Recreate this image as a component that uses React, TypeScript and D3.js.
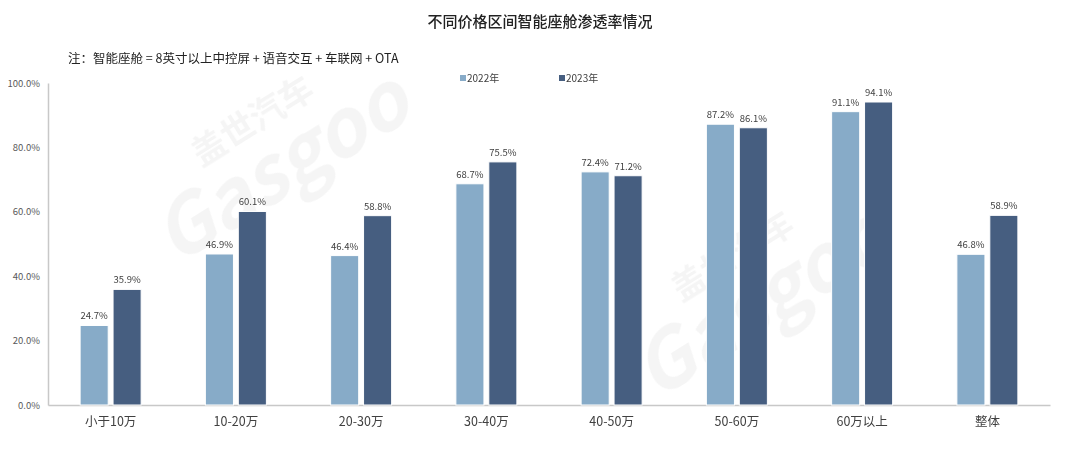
import { useEffect, useRef } from 'react';
import * as d3 from 'd3';

const categories = ['小于10万', '10-20万', '20-30万', '30-40万', '40-50万', '50-60万', '60万以上', '整体'];
const series2022 = [24.7, 46.9, 46.4, 68.7, 72.4, 87.2, 91.1, 46.8];
const series2023 = [35.9, 60.1, 58.8, 75.5, 71.2, 86.1, 94.1, 58.9];
const seriesNames = ['2022年', '2023年'];
const yTicks = [0, 20, 40, 60, 80, 100];

const COLORS = ['#87abc8', '#465e80'];
const FONT = '"Noto Sans CJK SC", "Noto Sans", sans-serif';

export default function App() {
  const svgRef = useRef<SVGSVGElement>(null);

  useEffect(() => {
    if (!svgRef.current) return;
    const svg = d3.select(svgRef.current);
    svg.selectAll('*').remove();

    const W = 1080, H = 455;
    const margin = { top: 83, right: 30, bottom: 50, left: 48 };
    const width = W - margin.left - margin.right;
    const height = H - margin.top - margin.bottom;

    // watermark
    const wm = svg.append('g').attr('opacity', 0.06).attr('fill', '#555')
      .attr('font-family', FONT).attr('font-weight', 'bold');
    [[280, 165], [760, 300]].forEach(([cx, cy]) => {
      const w = wm.append('g').attr('transform', `translate(${cx},${cy}) rotate(-32)`);
      w.append('text').attr('x', 0).attr('y', -40).attr('text-anchor', 'middle')
        .attr('font-size', 34).text('盖世汽车');
      w.append('text').attr('x', 0).attr('y', 30).attr('text-anchor', 'middle')
        .attr('font-size', 78).attr('font-style', 'italic').text('Gasgoo');
    });

    // title
    svg.append('text').attr('x', W / 2).attr('y', 27).attr('text-anchor', 'middle')
      .attr('font-family', FONT).attr('font-size', 15).attr('font-weight', 500).attr('fill', '#222')
      .text('不同价格区间智能座舱渗透率情况');

    svg.append('text').attr('x', 68).attr('y', 63)
      .attr('font-family', FONT).attr('font-size', 12.5).attr('fill', '#222')
      .text('注：智能座舱 = 8英寸以上中控屏 + 语音交互 + 车联网 + OTA');

    const g = svg.append('g').attr('transform', `translate(${margin.left},${margin.top})`);

    const x0 = d3.scaleBand().domain(categories).range([0, width]);
    const barW = 26, gap = 9;
    const x1 = d3.scaleBand().domain(seriesNames).range([0, barW * 2 + gap]).paddingInner(gap / (barW * 2 + gap));
    const y = d3.scaleLinear().domain([0, 100]).range([height, 0]);

    // y axis
    g.append('g')
      .call(d3.axisLeft(y).tickValues(yTicks).tickSize(0).tickPadding(8).tickFormat(d => `${(d as number).toFixed(1)}%`))
      .call(s => s.select('.domain').attr('stroke', '#c8c8c8').attr('stroke-width', 1.5))
      .call(s => s.selectAll('text').attr('fill', '#595959').attr('font-size', 9.5).attr('font-family', FONT));

    // x axis
    g.append('g').attr('transform', `translate(0,${height})`)
      .call(d3.axisBottom(x0).tickSize(0).tickPadding(12))
      .call(s => s.select('.domain').attr('stroke', '#c8c8c8').attr('stroke-width', 1.5))
      .call(s => s.selectAll('text').attr('fill', '#404040').attr('font-size', 12.5).attr('font-family', FONT));

    const rows = categories.map((c, i) => ({ c, vals: [series2022[i], series2023[i]] }));
    const off = (x0.bandwidth() - (barW * 2 + gap)) / 2;

    const grp = g.selectAll('.cat').data(rows).enter().append('g')
      .attr('transform', d => `translate(${x0(d.c)! + off},0)`);

    grp.selectAll('rect').data(d => d.vals.map((v, k) => ({ v, k })))
      .enter().append('rect')
      .attr('x', d => x1(seriesNames[d.k])!)
      .attr('y', d => y(d.v))
      .attr('width', x1.bandwidth())
      .attr('height', d => height - y(d.v))
      .attr('fill', d => COLORS[d.k])
      .attr('stroke', '#fff').attr('stroke-width', 1);

    grp.selectAll('text.lbl').data(d => d.vals.map((v, k) => ({ v, k })))
      .enter().append('text').attr('class', 'lbl')
      .attr('x', d => x1(seriesNames[d.k])! + x1.bandwidth() / 2)
      .attr('y', d => y(d.v) - 6)
      .attr('text-anchor', 'middle')
      .attr('font-family', FONT).attr('font-size', 9.5).attr('fill', '#404040')
      .text(d => `${d.v.toFixed(1)}%`);

    // legend
    const leg = svg.append('g').attr('font-family', FONT).attr('font-size', 10).attr('fill', '#404040');
    seriesNames.forEach((n, i) => {
      const lx = 460 + i * 99;
      leg.append('rect').attr('x', lx).attr('y', 75).attr('width', 6).attr('height', 6).attr('fill', COLORS[i]);
      leg.append('text').attr('x', lx + 7).attr('y', 81.5).text(n);
    });
  }, []);

  return (
    <div style={{ margin: -8 }}>
      <svg ref={svgRef} width={1080} height={455} style={{ display: 'block', background: '#fff' }} />
    </div>
  );
}
